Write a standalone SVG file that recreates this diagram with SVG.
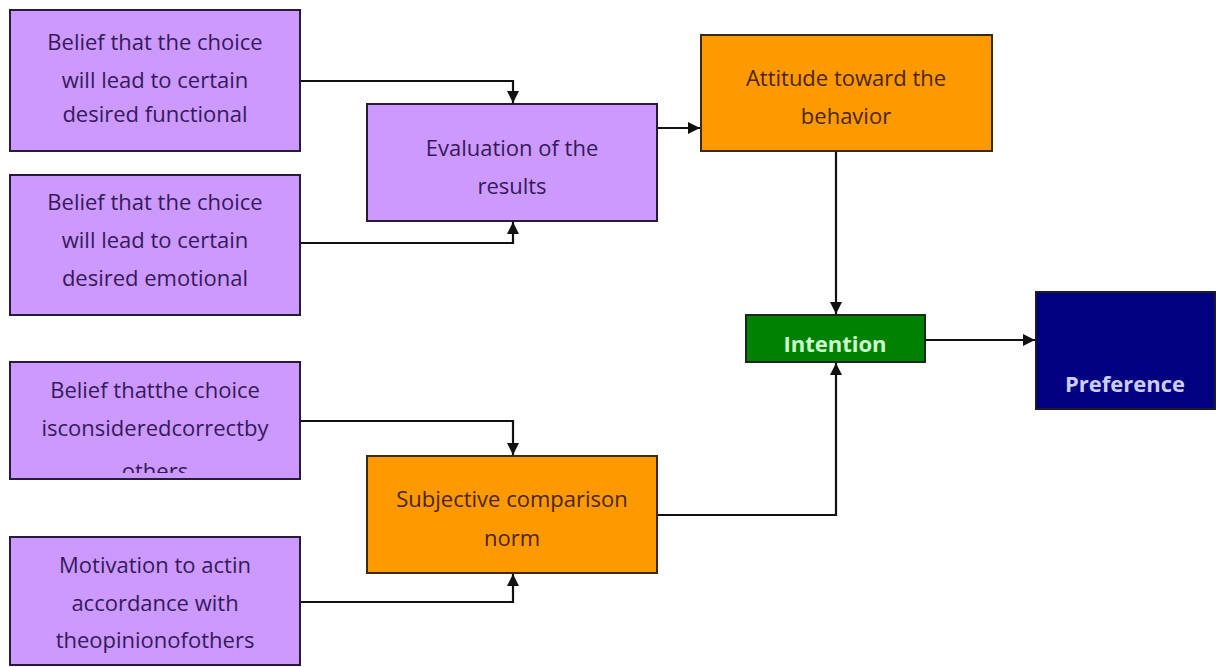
<svg xmlns="http://www.w3.org/2000/svg" width="1217" height="667" viewBox="0 0 1217 667">
<style>
.purple{fill:#cc99ff;stroke:#2a1a3a;stroke-width:2}
.orange{fill:#ff9900;stroke:#3a2a10;stroke-width:2}
.green{fill:#008000;stroke:#1a2a1a;stroke-width:2}
.navy{fill:#000080;stroke:#1a1a2a;stroke-width:2}
text{font-family:"Open Sans","Liberation Sans",sans-serif;font-size:22px;text-anchor:middle}
.tp{fill:#36195a}
.to{fill:#4a2600}
.tg{fill:#ccffcc;font-weight:bold}
.tn{fill:#ccccff;font-weight:bold}
.conn{fill:none;stroke:#111;stroke-width:2.2}
</style>
<defs>
<marker id="ah" viewBox="0 0 10 10" refX="10" refY="5" markerWidth="13" markerHeight="12" markerUnits="userSpaceOnUse" orient="auto">
<path d="M0,0 L10,5 L0,10 z" fill="#111"/>
</marker>
<clipPath id="c3"><rect x="11" y="363" width="288" height="110"/></clipPath>
</defs>
<rect width="1217" height="667" fill="#fff"/>
<g id="connectors">
<path class="conn" d="M300,81 H513 V103" marker-end="url(#ah)"/>
<path class="conn" d="M300,243 H513 V222" marker-end="url(#ah)"/>
<path class="conn" d="M657,128 H700" marker-end="url(#ah)"/>
<path class="conn" d="M836,151 V314" marker-end="url(#ah)"/>
<path class="conn" d="M657,515 H836 V363" marker-end="url(#ah)"/>
<path class="conn" d="M925,340 H1035" marker-end="url(#ah)"/>
<path class="conn" d="M300,421 H513 V455" marker-end="url(#ah)"/>
<path class="conn" d="M300,602 H513 V574" marker-end="url(#ah)"/>
</g>
<g id="belief-functional">
<rect class="purple" x="10" y="10" width="290" height="141"/>
<text class="tp" x="155" y="50">Belief that the choice</text>
<text class="tp" x="155" y="88">will lead to certain</text>
<text class="tp" x="155" y="122">desired functional</text>
</g>
<g id="belief-emotional">
<rect class="purple" x="10" y="175" width="290" height="140"/>
<text class="tp" x="155" y="210">Belief that the choice</text>
<text class="tp" x="155" y="248">will lead to certain</text>
<text class="tp" x="155" y="286">desired emotional</text>
</g>
<g id="belief-others">
<rect class="purple" x="10" y="362" width="290" height="117"/>
<text class="tp" x="155" y="398">Belief thatthe choice</text>
<text class="tp" x="155" y="436">isconsideredcorrectby</text>
<text class="tp" x="155" y="479" clip-path="url(#c3)">others</text>
</g>
<g id="motivation">
<rect class="purple" x="10" y="537" width="290" height="128"/>
<text class="tp" x="155" y="573">Motivation to actin</text>
<text class="tp" x="155" y="611">accordance with</text>
<text class="tp" x="155" y="648">theopinionofothers</text>
</g>
<g id="evaluation">
<rect class="purple" x="367" y="104" width="290" height="117"/>
<text class="tp" x="512" y="156">Evaluation of the</text>
<text class="tp" x="512" y="194">results</text>
</g>
<g id="subjective">
<rect class="orange" x="367" y="456" width="290" height="117"/>
<text class="to" x="512" y="507">Subjective comparison</text>
<text class="to" x="512" y="546">norm</text>
</g>
<g id="attitude">
<rect class="orange" x="701" y="35" width="291" height="116"/>
<text class="to" x="846" y="86">Attitude toward the</text>
<text class="to" x="846" y="124">behavior</text>
</g>
<g id="intention">
<rect class="green" x="746" y="315" width="179" height="47"/>
<text class="tg" x="835" y="352">Intention</text>
</g>
<g id="preference">
<rect class="navy" x="1036" y="292" width="179" height="117"/>
<text class="tn" x="1125" y="392">Preference</text>
</g>
</svg>
